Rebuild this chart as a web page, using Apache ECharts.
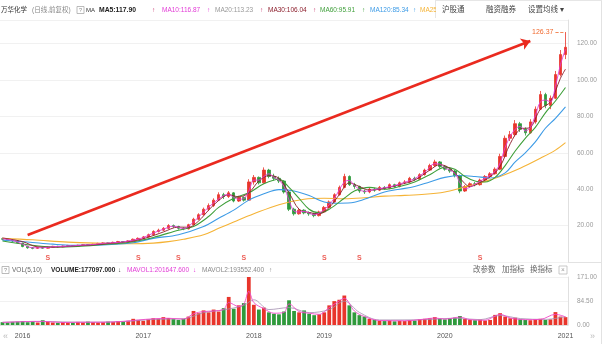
<!DOCTYPE html>
<html>
<head>
<meta charset="utf-8">
<script src="https://cdn.jsdelivr.net/npm/echarts@6/dist/echarts.min.js"></script>
<style>
html, body { margin: 0; padding: 0; background: #fff; }
#chart { width: 612px; height: 344px; }
</style>
</head>
<body>
<div id="chart"></div>
<script>
// Half-month periods shown for each calendar year (2018 is short: trading halt)
const yearSpans = [['2015', 4], ['2016', 24], ['2017', 22], ['2018', 14], ['2019', 24], ['2020', 24], ['2021', 1]];

// [open, close, low, high] per period (forward-adjusted price)
const candles = [
  [12.8, 12.5, 12.0, 13.3], [12.5, 12.0, 11.6, 12.9], [12.0, 11.5, 11.0, 12.3], [11.6, 10.5, 10.2, 11.8],
  [10.4, 8.5, 8.1, 10.6], [8.6, 7.8, 7.3, 8.9], [7.8, 7.5, 7.0, 8.2], [7.5, 8.0, 7.2, 8.4],
  [8.0, 7.6, 7.3, 8.3], [7.6, 8.2, 7.4, 8.5], [8.2, 8.6, 8.0, 8.9], [8.6, 8.3, 8.0, 8.9],
  [8.3, 8.8, 8.1, 9.1], [8.8, 9.0, 8.5, 9.4], [9.0, 8.7, 8.4, 9.2], [8.7, 9.2, 8.5, 9.5],
  [9.2, 9.5, 8.9, 9.9], [9.5, 9.3, 9.0, 9.8], [9.3, 9.8, 9.1, 10.1], [9.8, 10.2, 9.6, 10.6],
  [10.2, 10.5, 9.9, 10.9], [10.5, 10.3, 10.0, 10.8], [10.3, 10.8, 10.1, 11.2], [10.8, 11.2, 10.6, 11.6],
  [11.2, 11.0, 10.7, 11.5], [11.0, 11.6, 10.8, 12.0], [11.6, 12.5, 11.4, 12.9], [12.5, 13.0, 12.1, 13.5],
  [13.0, 13.8, 12.6, 14.3], [13.8, 15.0, 13.5, 15.6], [15.0, 16.8, 14.7, 17.4], [16.8, 17.5, 16.2, 18.3],
  [17.5, 18.5, 17.0, 19.2], [18.5, 20.0, 18.0, 20.8], [20.0, 19.5, 18.8, 20.6], [19.5, 18.5, 17.8, 19.9],
  [18.5, 18.2, 17.5, 19.0], [18.2, 20.5, 17.9, 21.0], [20.5, 23.5, 20.2, 24.3], [23.5, 26.0, 23.0, 26.8],
  [26.0, 29.0, 25.5, 29.9], [29.0, 31.0, 28.0, 32.2], [31.0, 34.0, 30.2, 35.0], [34.0, 37.0, 33.5, 38.3],
  [37.0, 36.0, 34.6, 38.0], [36.0, 38.0, 35.2, 39.0], [38.0, 33.5, 32.8, 38.4], [33.5, 35.5, 33.0, 36.4],
  [35.5, 34.0, 33.2, 36.0], [34.0, 44.0, 33.8, 45.5], [44.0, 46.5, 42.5, 47.8], [46.5, 43.5, 42.6, 47.0],
  [43.5, 50.5, 43.0, 52.0], [50.5, 47.0, 46.0, 51.2], [47.0, 46.0, 44.8, 48.5], [46.0, 44.5, 43.4, 47.0],
  [44.5, 38.5, 37.6, 45.0], [38.5, 29.0, 28.0, 39.0], [29.0, 26.5, 25.5, 29.8], [26.5, 28.5, 26.0, 29.6],
  [28.5, 27.0, 26.2, 29.0], [27.0, 26.5, 25.4, 27.8], [26.5, 25.5, 24.6, 27.0], [25.5, 27.5, 25.0, 28.2],
  [27.5, 30.0, 27.0, 30.8], [30.0, 33.0, 29.6, 33.8], [33.0, 37.0, 32.5, 37.8], [37.0, 41.0, 36.5, 42.0],
  [41.0, 47.0, 40.5, 48.5], [47.0, 42.5, 41.8, 47.6], [42.5, 41.5, 40.2, 43.5], [41.5, 39.0, 38.0, 42.0],
  [39.0, 38.5, 37.4, 39.8], [38.5, 40.0, 37.8, 40.8], [40.0, 39.5, 38.6, 40.8], [39.5, 41.0, 39.0, 41.8],
  [41.0, 40.5, 39.6, 41.7], [40.5, 42.5, 40.0, 43.2], [42.5, 41.5, 40.8, 43.0], [41.5, 43.5, 41.0, 44.2],
  [43.5, 44.0, 42.8, 45.0], [44.0, 46.0, 43.5, 46.8], [46.0, 45.5, 44.6, 46.9], [45.5, 48.0, 45.0, 48.8],
  [48.0, 50.5, 47.5, 51.3], [50.5, 53.0, 50.0, 54.0], [53.0, 55.0, 52.2, 56.2], [55.0, 52.5, 51.6, 55.5],
  [52.5, 51.0, 50.2, 53.2], [51.0, 50.0, 49.0, 51.8], [50.0, 47.5, 46.5, 50.6], [47.5, 39.0, 37.8, 48.0],
  [39.0, 41.5, 38.5, 42.3], [41.5, 43.0, 40.8, 43.8], [43.0, 42.5, 41.6, 44.0], [42.5, 45.0, 42.0, 45.8],
  [45.0, 47.0, 44.5, 47.8], [47.0, 48.5, 46.3, 49.4], [48.5, 51.0, 48.0, 52.0], [51.0, 58.0, 50.5, 59.5],
  [58.0, 68.0, 57.5, 69.5], [68.0, 70.0, 66.5, 72.0], [70.0, 76.0, 69.0, 78.0], [76.0, 73.0, 71.5, 77.0],
  [73.0, 71.0, 69.5, 74.0], [71.0, 77.0, 70.5, 78.5], [77.0, 84.0, 76.0, 85.5], [84.0, 92.0, 83.5, 94.0],
  [92.0, 86.0, 84.5, 93.0], [86.0, 90.0, 84.0, 91.5], [90.0, 103.0, 89.5, 105.0], [103.0, 114.0, 102.0, 116.5],
  [114.0, 118.0, 111.5, 126.37]
];

// Volume per period (10k lots)
const volumes = [
  10, 9, 11, 12, 14, 10, 13, 9, 17, 12,
  9, 8, 10, 9, 8, 11, 9, 12, 10, 9,
  10, 12, 11, 14, 12, 15, 22, 18, 15, 20,
  24, 22, 28, 25, 21, 18, 22, 30, 50, 42,
  52, 45, 55, 48, 60, 100, 58, 70, 78, 171,
  72, 55, 62, 45, 40, 38, 48, 88, 50, 45,
  52, 40, 35, 38, 45, 70, 85, 90, 105, 70,
  45, 35, 30, 22, 18, 15, 14, 16, 13, 15,
  14, 17, 16, 20, 22, 24, 28, 22, 20, 24,
  26, 32, 22, 18, 17, 19, 16, 18, 36, 42,
  30, 24, 26, 20, 18, 17, 20, 22, 18, 20,
  46, 30, 28
];

// Moving averages as [period index, value]
const ma10Pts = [[0,12.7],[2,11.9],[4,9.8],[6,7.8],[8,7.8],[10,8.4],[12,8.6],[14,8.9],[16,9.3],[18,9.6],[20,10.3],[22,10.6],[24,11.1],[26,12.0],[28,13.4],[30,15.9],[32,18.0],[34,19.7],[36,18.4],[38,22.0],[40,27.5],[42,32.5],[44,36.5],[45,37.0],[46,35.5],[47,34.5],[48,34.8],[49,39],[50,45],[51,45],[52,47],[53,48.5],[54,46.5],[55,45],[56,41.5],[57,34],[58,28],[59,27.5],[60,27.8],[62,26],[64,28.8],[66,35],[68,44],[69,44.8],[70,42],[72,38.8],[74,39.8],[76,40.8],[78,42],[80,43.8],[82,45.8],[84,49.3],[86,54],[87,53.8],[88,51.8],[90,48.8],[91,43.5],[92,40.2],[94,42.8],[96,46],[98,49.8],[99,54.5],[100,63],[101,69],[102,73],[103,74.5],[104,72],[105,74],[106,80.5],[107,88],[108,89],[109,88],[110,96.5],[111,108.5],[112,116.9]];
const ma30Pts = [[0,13.2],[4,11.2],[7,8.3],[10,8.1],[14,8.8],[18,9.4],[22,10.4],[26,11.5],[29,13.6],[32,16.5],[35,19.2],[37,19.1],[39,22.5],[41,28.5],[43,33.8],[45,37.0],[47,35.8],[49,38],[51,44.5],[53,47.5],[55,46],[57,38],[59,29],[61,27.2],[63,26.5],[65,30],[67,37],[69,43.5],[71,41.5],[73,39.5],[76,40.5],[79,42.5],[82,45],[85,50.5],[87,53.5],[89,51.5],[91,46],[93,41.5],[95,43.6],[97,46.8],[99,52.5],[101,65],[103,73],[105,74],[107,84],[109,88],[111,101],[112,106]];
const ma60Pts = [[0,11.5],[5,9.5],[10,8.3],[15,8.6],[20,9.6],[25,10.7],[30,13.5],[35,17.5],[38,19.5],[41,25],[43,30],[46,35],[49,38],[52,43],[55,45.5],[57,41],[59,35],[61,29],[63,27],[65,29],[68,35],[70,39],[73,41],[76,40],[79,41.5],[82,44],[85,48],[88,52],[90,51],[92,47],[94,44.5],[96,44],[98,46.5],[100,53],[102,61],[104,68],[106,74],[108,82],[110,88.5],[112,95.9]];
const ma120Pts = [[0,12],[5,11],[10,9.8],[14,9.2],[20,9.4],[26,10.6],[30,13],[35,15],[40,19.5],[43,24],[46,28.5],[49,34],[52,37.5],[55,39.8],[58,39],[61,36.5],[64,33],[67,32.3],[70,32.8],[73,35.5],[76,38.5],[79,40],[82,41.5],[85,44],[88,46.5],[91,47.5],[94,47],[97,46.2],[100,49],[102,55],[104,60],[106,66],[108,73.5],[110,79],[112,85.3]];
const ma250Pts = [[0,13.0],[6,12.2],[13,10.9],[20,10.3],[26,10.0],[30,10.4],[33,11.2],[36,12.5],[40,15],[43,18.5],[46,22],[50,26.5],[55,31.5],[60,34.5],[64,35.0],[68,34.8],[72,35.3],[76,36.2],[80,36.6],[84,37.2],[88,38.5],[91,40.5],[95,43.5],[99,47],[103,51.5],[107,57],[110,61.5],[112,65.6]];
const mavol1Pts = [[0,9],[4,12],[8,13],[12,9],[16,10],[20,10],[24,13],[27,18],[30,22],[33,24],[36,21],[38,40],[40,48],[42,50],[44,56],[45,80],[47,66],[48,74],[49,120],[50,80],[52,58],[54,42],[56,45],[57,75],[59,48],[61,42],[63,38],[65,62],[67,86],[68,95],[70,50],[72,30],[75,16],[80,15],[84,21],[86,25],[88,21],[91,28],[93,19],[96,17],[98,32],[99,38],[101,25],[104,19],[107,20],[110,38],[112,29]];
const mavol2Pts = [[0,10],[8,12],[16,10],[24,12],[30,20],[36,22],[40,44],[44,54],[48,70],[50,90],[53,55],[57,62],[61,44],[65,55],[68,85],[71,45],[75,18],[84,19],[90,24],[95,19],[99,34],[103,23],[108,20],[112,30]];

// Dividend marks (period index) and the trend arrow endpoints [index, price]
const dividendIdx = [9, 27, 35, 48, 64, 71, 95];
const trendArrow = [[5, 14.8], [105, 121.5]];
const highMark = { idx: 112, price: 126.37 };

const UP = '#e8352b', DOWN = '#2f9a3c';
const C_MA5 = '#222222', C_MA10 = '#e23ad6', C_MA20 = '#999999', C_MA30 = '#8b1c2a';
const C_MA60 = '#3f9f3a', C_MA120 = '#3d9be6', C_MA250 = '#f5b335';
const FONT = "'Liberation Sans', 'Noto Sans CJK SC', sans-serif";

// category axis labels
const categories = [];
const yearStart = new Set();
yearSpans.forEach(([y, n]) => {
  for (let k = 1; k <= n; k++) {
    if (k === 1 && y !== '2015') yearStart.add(categories.length);
    categories.push(y + '-' + String(k).padStart(2, '0'));
  }
});

const volumeData = volumes.map((v, i) => ({
  value: v,
  itemStyle: { color: candles[i][1] >= candles[i][0] ? UP : DOWN }
}));

function maLine(name, pts, color, width, xi, yi) {
  return {
    name, type: 'line', data: pts, xAxisIndex: xi || 0, yAxisIndex: yi || 0,
    smooth: 0.35, showSymbol: false, silent: true,
    lineStyle: { color, width: width || 1 }, z: 3
  };
}

function txt(x, y, text, fill, size, weight, align) {
  return {
    type: 'text', x, y, silent: true,
    style: { text, fill, fontSize: size || 6.5, fontFamily: FONT, fontWeight: weight || 'normal',
             verticalAlign: 'middle', align: align || 'left' }
  };
}
function hline(x1, x2, y, color) {
  return { type: 'line', silent: true, shape: { x1, y1: y, x2, y2: y }, style: { stroke: color || '#e3e3e3', lineWidth: 1 } };
}
function vline(x, y1, y2, color) {
  return { type: 'line', silent: true, shape: { x1: x, y1, x2: x, y2 }, style: { stroke: color || '#e3e3e3', lineWidth: 1 } };
}
function qbox(x, y) {
  return [
    { type: 'rect', silent: true, shape: { x, y: y - 3.5, width: 7, height: 7 }, style: { fill: '#fff', stroke: '#aaa', lineWidth: 0.8 } },
    txt(x + 3.5, y, '?', '#888', 5.5, 'normal', 'center')
  ];
}

const graphics = [
  vline(601.5, 0, 344, '#e2e2e2'),
  hline(0, 602, 262.5, '#e2e2e2'),
  vline(435.5, 0, 18, '#e6e6e6'),
  hline(435, 602, 0.5, '#e6e6e6'),
  txt(1, 10, '万华化学', '#333', 6.5),
  txt(32, 10, '(日线,前复权)', '#888', 6.5),
  ...qbox(77, 10),
  txt(86, 10, 'MA', '#333', 6),
  txt(99, 10, 'MA5:117.90', C_MA5, 6.8, 'bold'),
  txt(152, 10, '↑', '#c83a70', 6.5),
  txt(162, 10, 'MA10:116.87', C_MA10, 6.5),
  txt(207, 10, '↑', C_MA10, 6.5),
  txt(215, 10, 'MA20:113.23', C_MA20, 6.5),
  txt(260, 10, '↑', '#c83a70', 6.5),
  txt(268, 10, 'MA30:106.04', C_MA30, 6.5),
  txt(313, 10, '↑', '#c83a70', 6.5),
  txt(320, 10, 'MA60:95.91', C_MA60, 6.5),
  txt(362, 10, '↑', C_MA60, 6.5),
  txt(370, 10, 'MA120:85.34', C_MA120, 6.5),
  txt(413, 10, '↑', C_MA120, 6.5),
  txt(420, 10, 'MA250', C_MA250, 6.5),
  { type: 'rect', silent: true, shape: { x: 436, y: 1, width: 40, height: 17 }, style: { fill: '#fff' } },
  txt(442, 10, '沪股通', '#444', 7.5),
  txt(486, 10, '融资融券', '#444', 7.5),
  txt(528, 10, '设置均线 ▾', '#444', 7.5),
  ...qbox(2, 270),
  txt(12, 270, 'VOL(5,10)', '#666', 6.5),
  txt(51, 270, 'VOLUME:177097.000', '#222', 6.5, 'bold'),
  txt(118, 270, '↓', '#444', 6.5),
  txt(127, 270, 'MAVOL1:201647.600', C_MA10, 6.5),
  txt(193, 270, '↓', C_MA10, 6.5),
  txt(202, 270, 'MAVOL2:193552.400', '#8a8a8a', 6.5),
  txt(269, 270, '↑', '#8a8a8a', 6.5),
  txt(473, 270, '改参数', '#666', 7.5),
  txt(502, 270, '加指标', '#666', 7.5),
  txt(530, 270, '换指标', '#666', 7.5),
  { type: 'rect', silent: true, shape: { x: 559, y: 266, width: 8, height: 8 }, style: { fill: '#fff', stroke: '#bbb', lineWidth: 0.8 } },
  txt(563, 270, '×', '#999', 6.5, 'normal', 'center'),
  txt(3, 337, '«', '#bbb', 9),
  txt(590, 337, '»', '#bbb', 9)
];

const option = {
  animation: false,
  backgroundColor: '#fff',
  textStyle: { fontFamily: FONT },
  grid: [
    { left: 0, right: 44, top: 20, height: 242 },
    { left: 0, right: 44, top: 277, height: 48 }
  ],
  xAxis: [
    { type: 'category', gridIndex: 0, data: categories, boundaryGap: true,
      axisLine: { show: false }, axisTick: { show: false }, axisLabel: { show: false }, splitLine: { show: false } },
    { type: 'category', gridIndex: 1, data: categories, boundaryGap: true,
      axisLine: { lineStyle: { color: '#e0e0e0' } }, axisTick: { show: false },
      axisLabel: { interval: (i) => yearStart.has(i), formatter: (v) => v.slice(0, 4),
                   color: '#555', fontSize: 7, margin: 8 },
      splitLine: { show: false } }
  ],
  yAxis: [
    { type: 'value', gridIndex: 0, position: 'right', min: 0, max: 133, interval: 20,
      axisLine: { show: true, lineStyle: { color: '#e0e0e0' } }, axisTick: { show: false },
      axisLabel: { color: '#999', fontSize: 6.5, margin: 9, showMinLabel: false, showMaxLabel: false,
                   formatter: (v) => v.toFixed(2) },
      splitLine: { lineStyle: { color: '#f1f1f1' } } },
    { type: 'value', gridIndex: 1, position: 'right', min: 0, max: 171, interval: 85.5,
      axisLine: { show: true, lineStyle: { color: '#e0e0e0' } }, axisTick: { show: false },
      axisLabel: { color: '#999', fontSize: 6.5, margin: 9, customValues: [0, 84.5, 171],
                   formatter: (v) => v.toFixed(2) },
      splitLine: { lineStyle: { color: '#f1f1f1' } } }
  ],
  series: [
    {
      name: '万华化学', type: 'candlestick', data: candles, xAxisIndex: 0, yAxisIndex: 0,
      barWidth: 3, z: 2,
      itemStyle: { color: UP, color0: DOWN, borderColor: UP, borderColor0: DOWN, borderWidth: 0.8 },
      markLine: {
        silent: true, symbol: ['none', 'arrow'], symbolSize: 9,
        label: { show: false },
        lineStyle: { color: '#ea2a1f', width: 2.6, type: 'solid' },
        data: [[{ coord: trendArrow[0] }, { coord: trendArrow[1] }]]
      }
    },
    maLine('MA250', ma250Pts, C_MA250, 1.1),
    maLine('MA120', ma120Pts, C_MA120, 1.1),
    maLine('MA60', ma60Pts, C_MA60, 1.1),
    maLine('MA30', ma30Pts, C_MA30, 0.9),
    maLine('MA10', ma10Pts, C_MA10, 0.9),
    {
      name: '最高', type: 'line', data: [], xAxisIndex: 0, yAxisIndex: 0,
      markLine: {
        silent: true, symbol: ['none', 'none'],
        lineStyle: { color: '#f0692e', width: 0.8, type: 'dashed' },
        label: { show: true, position: 'start', formatter: String(highMark.price), color: '#f0692e', fontSize: 7, distance: 2 },
        data: [[{ coord: [highMark.idx - 2, highMark.price] }, { coord: [highMark.idx, highMark.price] }]]
      }
    },
    {
      name: '分红', type: 'scatter', xAxisIndex: 0, yAxisIndex: 0, symbolSize: 0, silent: true,
      data: dividendIdx.map((i) => [i, 2]),
      label: { show: true, formatter: 'S', color: '#e8352b', fontSize: 7, fontWeight: 'bold', position: 'inside' }
    },
    {
      name: 'VOLUME', type: 'bar', data: volumeData, xAxisIndex: 1, yAxisIndex: 1,
      barCategoryGap: '25%', silent: true
    },
    maLine('MAVOL2', mavol2Pts, '#a38fb0', 0.8, 1, 1),
    maLine('MAVOL1', mavol1Pts, '#f048c8', 0.9, 1, 1)
  ],
  graphic: graphics
};

const chart = echarts.init(document.getElementById('chart'), null, { renderer: 'canvas' });
chart.setOption(option);
</script>
</body>
</html>
